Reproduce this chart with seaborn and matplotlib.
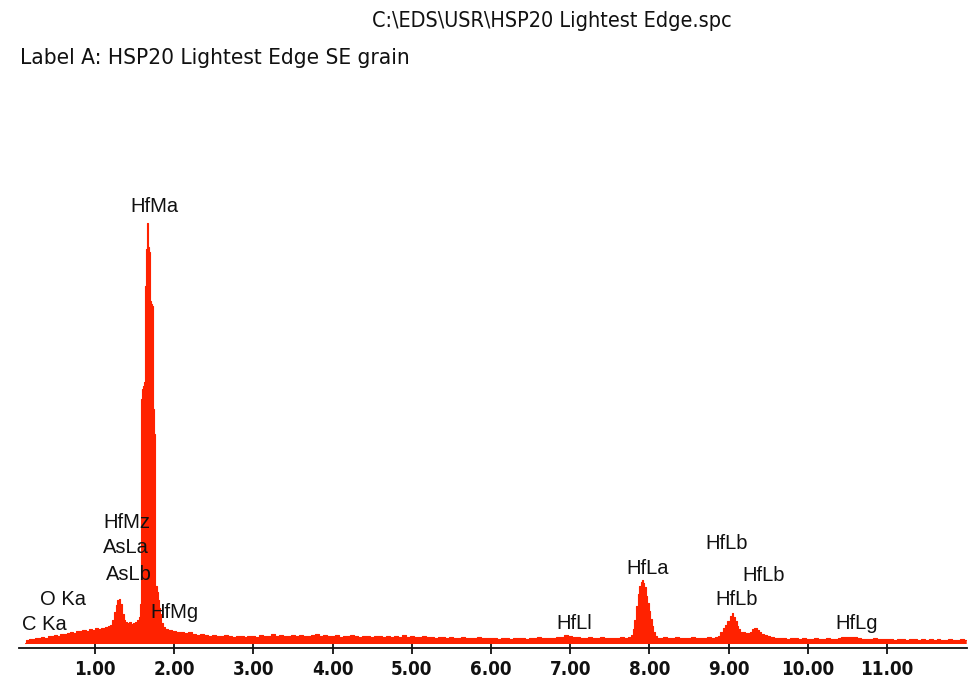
import matplotlib
matplotlib.use("Agg")
import matplotlib.pyplot as plt
import seaborn as sns
from matplotlib import font_manager as fm

# ---------------- data ----------------
energy_kev = [
    0.12, 0.14, 0.18, 0.22, 0.26, 0.30, 0.34, 0.38, 0.42, 0.46, 0.50, 0.54, 0.58, 0.62,
    0.66, 0.70, 0.74, 0.78, 0.82, 0.86, 0.90, 0.94, 0.98, 1.02, 1.06, 1.10, 1.14, 1.18,
    1.21, 1.23, 1.25, 1.27, 1.29, 1.31, 1.33, 1.35, 1.37, 1.39, 1.42, 1.44, 1.47, 1.49,
    1.52, 1.54, 1.56,
    1.575, 1.585, 1.595, 1.605, 1.62, 1.632, 1.644, 1.657, 1.669, 1.682, 1.694, 1.707,
    1.72, 1.732, 1.745, 1.757, 1.77, 1.783, 1.795, 1.81, 1.82, 1.846, 1.87, 1.90, 1.95,
    2.00, 2.05, 2.10, 2.15, 2.20, 2.25, 2.30, 2.35, 2.40, 2.45, 2.50, 2.55, 2.60, 2.65,
    2.70, 2.75, 2.80, 2.85, 2.90, 2.95, 3.00, 3.05, 3.10, 3.15, 3.20, 3.25, 3.30, 3.35,
    3.40, 3.45, 3.50, 3.55, 3.60, 3.65, 3.70, 3.75, 3.80, 3.85, 3.90, 3.95, 4.00, 4.05,
    4.10, 4.15, 4.20, 4.25, 4.30, 4.35, 4.40, 4.45, 4.50, 4.55, 4.60, 4.65, 4.70, 4.75,
    4.80, 4.85, 4.90, 4.95, 5.00, 5.05, 5.10, 5.15, 5.20, 5.25, 5.30, 5.35, 5.40, 5.45,
    5.50, 5.55, 5.60, 5.65, 5.70, 5.75, 5.80, 5.85, 5.90, 5.95, 6.00, 6.05, 6.10, 6.15,
    6.20, 6.25, 6.30, 6.35, 6.40, 6.45, 6.50, 6.55, 6.60, 6.65, 6.70, 6.75, 6.80, 6.85,
    6.90, 6.95, 7.00, 7.05, 7.10, 7.15, 7.20, 7.25, 7.30, 7.35, 7.40, 7.45, 7.50, 7.55,
    7.60, 7.65, 7.70, 7.75,
    7.78, 7.80, 7.82, 7.84, 7.86, 7.88, 7.90, 7.915, 7.93, 7.945, 7.965, 7.98, 8.00,
    8.02, 8.04, 8.06, 8.08, 8.10,
    8.15, 8.20, 8.25, 8.30, 8.35, 8.40, 8.45, 8.50, 8.55, 8.60, 8.65, 8.70, 8.75, 8.80,
    8.85, 8.88, 8.91, 8.94, 8.97, 9.00, 9.03, 9.05, 9.07, 9.09, 9.11, 9.13, 9.16, 9.19,
    9.22, 9.25, 9.28, 9.31, 9.34, 9.37, 9.40, 9.43, 9.46, 9.50, 9.55, 9.60, 9.65, 9.70,
    9.75, 9.80, 9.85, 9.90, 9.95, 10.00, 10.05, 10.10, 10.15, 10.20, 10.25, 10.30, 10.35,
    10.40, 10.45, 10.50, 10.55, 10.60, 10.65, 10.70, 10.75, 10.80, 10.85, 10.90, 10.95,
    11.00, 11.05, 11.10, 11.15, 11.20, 11.25, 11.30, 11.35, 11.40, 11.45, 11.50, 11.55,
    11.60, 11.65, 11.70, 11.75, 11.80, 11.85, 11.90, 11.95, 12.00,
]
counts = [
    1, 4, 5, 5, 6, 6, 7, 6, 8, 8, 9, 8, 10, 10,
    11, 12, 11, 13, 13, 14, 13, 15, 14, 16, 15, 16, 17, 18,
    19, 24, 32, 39, 44, 45, 40, 30, 24, 22, 21, 22, 20, 21,
    22, 24, 27,
    40, 245, 255, 258, 262, 358, 395, 421, 397, 392, 343, 340,
    338, 235, 210, 146, 58, 52, 44, 36, 30, 21, 17, 15, 14,
    13, 12, 12, 11, 12, 10, 9, 10, 9, 8, 9, 8, 8, 9,
    8, 7, 8, 8, 7, 8, 8, 7, 9, 8, 8, 10, 8, 9,
    8, 8, 9, 8, 9, 8, 8, 9, 10, 8, 9, 8, 8, 9,
    7, 8, 8, 9, 8, 7, 8, 8, 7, 8, 8, 7, 8, 7,
    8, 7, 9, 7, 8, 7, 7, 8, 7, 7, 6, 7, 7, 6,
    7, 6, 6, 7, 6, 6, 6, 7, 6, 6, 6, 6, 5, 6,
    6, 5, 6, 6, 6, 5, 6, 6, 7, 6, 6, 6, 6, 7,
    7, 9, 8, 7, 7, 6, 6, 7, 6, 6, 7, 6, 6, 6,
    6, 7, 6, 7,
    9, 15, 24, 38, 50, 58, 62, 64, 61, 57, 48, 41, 33,
    25, 18, 12, 8, 6,
    6, 7, 6, 6, 7, 6, 6, 6, 7, 6, 6, 6, 7, 6,
    7, 8, 12, 16, 19, 23, 28, 31, 27, 23, 18, 15, 12, 12,
    11, 11, 12, 15, 16, 14, 12, 10, 9, 8, 7, 6, 6, 6,
    5, 6, 6, 5, 6, 5, 5, 6, 5, 5, 6, 5, 5,
    6, 7, 7, 7, 7, 6, 5, 5, 5, 6, 5, 5,
    5, 5, 4, 5, 5, 4, 5, 5, 4, 5, 4, 5,
    4, 5, 4, 4, 5, 4, 4, 5, 4,
]

tick_values = [1, 2, 3, 4, 5, 6, 7, 8, 9, 10, 11]
tick_labels = ["1.00", "2.00", "3.00", "4.00", "5.00", "6.00", "7.00", "8.00", "9.00", "10.00", "11.00"]

peak_names = ["HfMa", "HfMz", "AsLa", "AsLb", "O Ka", "C Ka", "HfMg",
              "HfLl", "HfLa", "HfLb", "HfLb", "HfLb", "HfLg"]
peak_label_x = [1.745, 1.404, 1.385, 1.423, 0.596, 0.356, 2.004,
                7.054, 7.982, 8.98, 9.44, 9.106, 10.62]
peak_label_y = [1726, 462, 362, 254, 154, 54, 102,
                58, 278, 378, 250, 154, 58]

title_text = r"C:\EDS\USR\HSP20 Lightest Edge.spc"
label_text = "Label A: HSP20 Lightest Edge SE grain"

# ---------------- styling ----------------
sns.set_theme(style="white")
avail = {f.name for f in fm.fontManager.ttflist}
has_condensed = any("condensed" in str(f.stretch).lower() or "Condensed" in f.fname
                    for f in fm.fontManager.ttflist if f.name == "DejaVu Sans")
sans = "Liberation Sans" if "Liberation Sans" in avail else "DejaVu Sans"
plt.rcParams["font.family"] = [sans, "DejaVu Sans"]

if has_condensed:
    narrow_kw = dict(family="DejaVu Sans", fontstretch="condensed")
    tick_size, title_size, label_size = 13.5, 15.5, 16.2
else:
    narrow_kw = dict(family="DejaVu Sans")
    tick_size, title_size, label_size = 12, 14.3, 14.9

RED = "#ff2200"
SCALE = 4  # label coordinates were noted in counts*4 units

fig = plt.figure(figsize=(9.69, 6.80), dpi=100)
ax = fig.add_axes([19 / 969, 32 / 680, 948 / 969, 548 / 680])

ax.fill_between(energy_kev, 0, counts, step="mid", color=RED, linewidth=0)
sns.lineplot(x=energy_kev, y=counts, ax=ax, color=RED, linewidth=0.8,
             drawstyle="steps-mid", estimator=None, sort=False)

ax.set_xlim(0.04, 12.01)
ax.set_ylim(-4.5, 543.5)

for s in ["top", "left", "right"]:
    ax.spines[s].set_visible(False)
ax.spines["bottom"].set_color("#111111")
ax.spines["bottom"].set_linewidth(1.3)

ax.set_yticks([])
ax.set_xticks(tick_values)
ax.set_xticklabels(tick_labels, fontweight="bold", fontsize=tick_size, color="#111111", **narrow_kw)
ax.tick_params(axis="x", direction="inout", length=9, width=1.3, color="#111111", pad=4, bottom=True)
ax.set_xlabel("")
ax.set_ylabel("")

for name, lx, ly in zip(peak_names, peak_label_x, peak_label_y):
    ax.text(lx, ly / SCALE, name, ha="center", va="baseline", fontsize=14.5,
            color="#111111", family=[sans, "DejaVu Sans"])

fig.text(552 / 969, 1 - 27 / 680, title_text, ha="center", va="baseline",
         fontsize=title_size, color="#111111", **narrow_kw)
fig.text(20 / 969, 1 - 64 / 680, label_text, ha="left", va="baseline",
         fontsize=label_size, color="#111111", **narrow_kw)

fig.savefig("out.png", dpi=100, facecolor="white")
